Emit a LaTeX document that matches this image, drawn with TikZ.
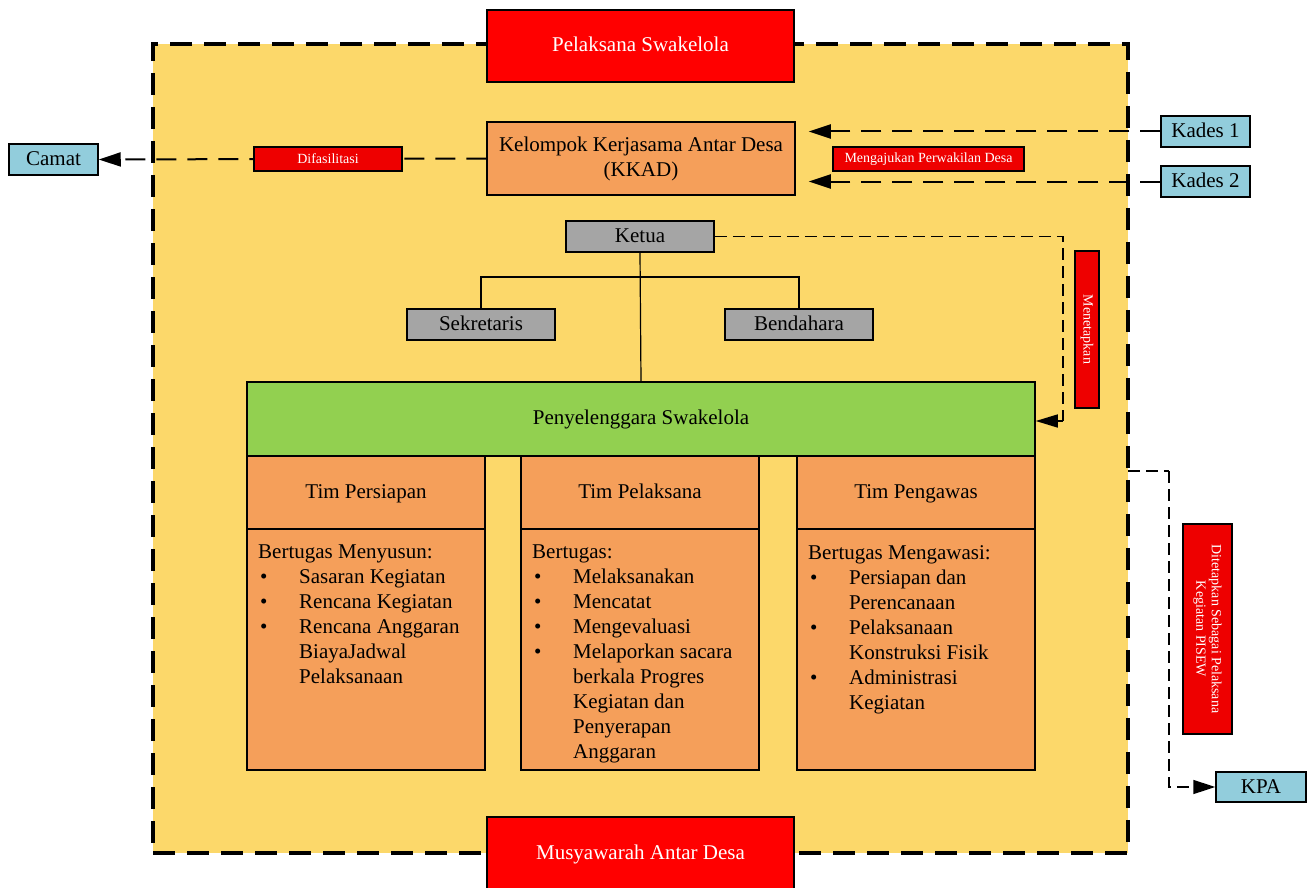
\documentclass[tikz,border=0pt]{standalone}
\usepackage{fontspec}
\setmainfont{Liberation Serif}
\usetikzlibrary{arrows.meta}
\definecolor{bgyellow}{HTML}{FCD86A}
\definecolor{orangebox}{HTML}{F59F5A}
\definecolor{titlered}{HTML}{FF0000}
\definecolor{tagred}{HTML}{EE0000}
\definecolor{skyblue}{HTML}{92CDDC}
\definecolor{greybox}{HTML}{A5A5A5}
\definecolor{greenbox}{HTML}{92D050}
% bullet item and continuation line for the task lists
\newcommand\itm[1]{\makebox[41pt][l]{\hspace{2pt}\textbullet}#1}
\newcommand\cont[1]{\hspace*{41pt}#1}
\begin{document}
\begin{tikzpicture}[x=1pt,y=-1pt,
  box/.style={draw=black, line width=1.5pt, inner sep=0pt,
    font=\fontsize{21}{25}\selectfont, align=center},
  oneline/.style={text height=13pt, text depth=1pt},
  titlebox/.style={box, oneline, fill=titlered, text=white, minimum width=307, minimum height=72},
  orgbox/.style={box, fill=orangebox},
  outerbox/.style={box, oneline, fill=skyblue, minimum width=89, minimum height=31},
  greybox/.style={box, oneline, fill=greybox, minimum width=148, minimum height=31},
  headbox/.style={orgbox, oneline, minimum width=238, minimum height=73},
  bodybox/.style={orgbox, minimum width=238, minimum height=241},
  bodytext/.style={inner sep=0pt, align=left, anchor=north west,
    font=\fontsize{21}{25}\selectfont},
  tag/.style={draw=black, line width=1.2pt, fill=tagred, text=white, inner sep=0pt,
    font=\fontsize{14}{15.5}\selectfont, align=center},
  conn/.style={line width=2pt, dash pattern=on 20pt off 11pt,
    -{Triangle[length=22pt,width=14pt]}},
  thinconn/.style={line width=1.5pt, dash pattern=on 12pt off 6pt},
  tree/.style={line width=1.2pt},
]
\useasboundingbox (0,0) rectangle (1312,888);

% swakelola frame
\node[draw=black, fill=bgyellow, line width=3.2pt, dash pattern=on 22pt off 12pt,
  minimum width=975, minimum height=809, inner sep=0pt] (frame) at (640.5,448.5) {};

\node[titlebox] (pel) at (640.5,46) {Pelaksana Swakelola};
\node[titlebox] (mus) at (640.5,853) {Musyawarah Antar Desa};

\node[orgbox, minimum width=308, minimum height=73] (kkad) at (641,158.5)
  {Kelompok Kerjasama Antar Desa\\(KKAD)};

\node[outerbox] (camat) at (53.5,159.5) {Camat};
\node[outerbox] (kades1) at (1205.5,131.5) {Kades 1};
\node[outerbox] (kades2) at (1205.5,181.5) {Kades 2};
\node[outerbox, minimum width=90, minimum height=30] (kpa) at (1261,787) {KPA};

\node[greybox] (ketua) at (640,236.5) {Ketua};
\node[greybox] (sek) at (481,324.5) {Sekretaris};
\node[greybox] (bend) at (799,324.5) {Bendahara};

\node[box, fill=greenbox, minimum width=788, minimum height=74] (peny) at (641,419)
  {Penyelenggara Swakelola};

% teams
\node[headbox] (hA) at (366,492.5) {Tim Persiapan};
\node[headbox] (hB) at (640,492.5) {Tim Pelaksana};
\node[headbox] (hC) at (916,492.5) {Tim Pengawas};
\node[bodybox] (bA) at (366,649.5) {};
\node[bodybox] (bB) at (640,649.5) {};
\node[bodybox] (bC) at (916,649.5) {};

\node[bodytext] (tA) at (258,545) {Bertugas Menyusun:\\
  \itm{Sasaran Kegiatan}\\
  \itm{Rencana Kegiatan}\\
  \itm{Rencana Anggaran}\\
  \cont{BiayaJadwal}\\
  \cont{Pelaksanaan}};
\node[bodytext] (tB) at (532,545) {Bertugas:\\
  \itm{Melaksanakan}\\
  \itm{Mencatat}\\
  \itm{Mengevaluasi}\\
  \itm{Melaporkan sacara}\\
  \cont{berkala Progres}\\
  \cont{Kegiatan dan}\\
  \cont{Penyerapan}\\
  \cont{Anggaran}};
\node[bodytext] (tC) at (808,545) {Bertugas Mengawasi:\\
  \itm{Persiapan dan}\\
  \cont{Perencanaan}\\
  \itm{Pelaksanaan}\\
  \cont{Konstruksi Fisik}\\
  \itm{Administrasi}\\
  \cont{Kegiatan}};

% organisation tree
\coordinate (branch) at (640,277);
\draw[tree] (ketua.south) -- (peny.north);
\draw[tree] (sek.north) -- (sek.north |- branch) -- (bend.north |- branch) -- (bend.north);

% connectors
\draw[conn] (kkad.west) -- (camat.east);
\draw[conn, shorten >=13pt] (kades1.west) -- (kkad.east |- kades1.west);
\draw[conn, shorten >=13pt] (kades2.west) -- (kkad.east |- kades2.west);

\coordinate (setbend) at (1063,421);
\draw[thinconn] (ketua.east) -| (setbend);
\draw[thinconn, -{Triangle[length=22pt,width=13pt]}] (setbend) -- (peny.east |- setbend);

\coordinate (frameout) at (1128,471);
\coordinate (kpabend) at (1169,471);
\draw[thinconn] (frameout) -- (kpabend);
\draw[thinconn, -{Triangle[length=22pt,width=14pt]}] (kpabend) |- (kpa.west);

% connector labels
\node[tag, minimum width=148, minimum height=24] (dif) at (328,159) {Difasilitasi};
\node[tag, minimum width=191, minimum height=24] (meng) at (928.5,159) {Mengajukan Perwakilan Desa};
\node[tag, rotate=-90, minimum width=157, minimum height=24] (mtp) at (1087,329.5) {Menetapkan};
\node[tag, rotate=-90, minimum width=210, minimum height=49] (dit) at (1207.5,629)
  {Ditetapkan Sebagai Pelaksana\\Kegiatan PISEW};
\end{tikzpicture}
\end{document}
